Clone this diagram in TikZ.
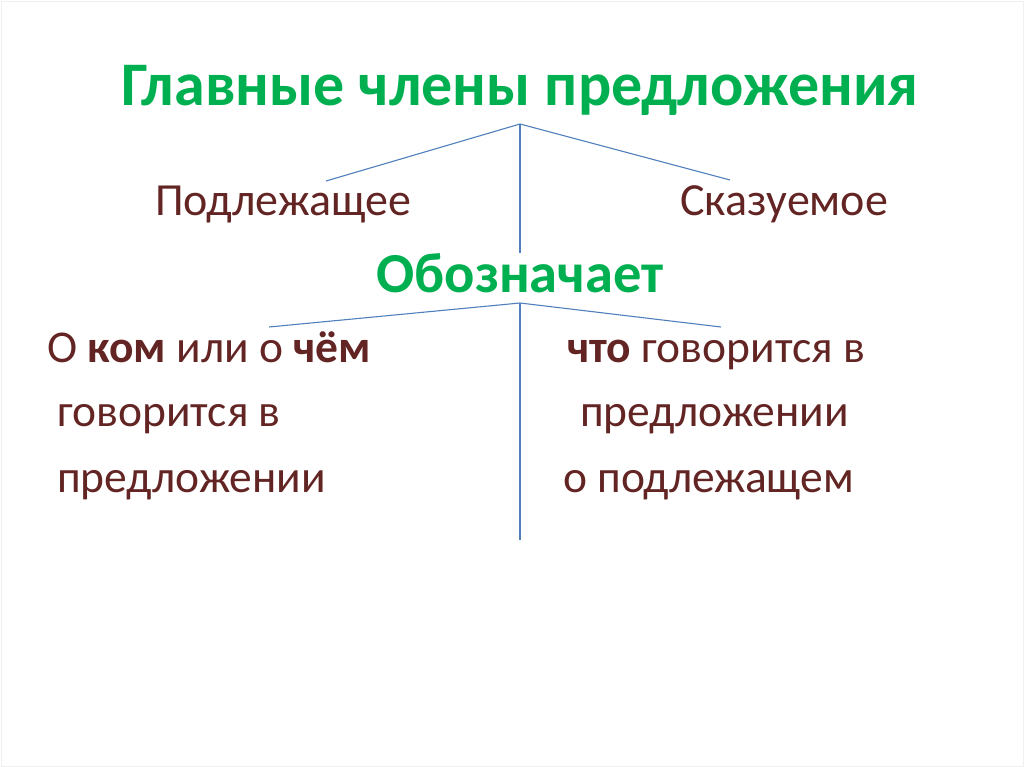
\documentclass[tikz,border=0pt]{standalone}
\usepackage{fontspec}
\setmainfont{Carlito}
\definecolor{titlegreen}{HTML}{00B050}
\definecolor{textbrown}{HTML}{632523}
\definecolor{linkblue}{HTML}{4F7FBC}
\tikzset{
  heading/.style={font=\bfseries\fontsize{62}{64}\selectfont, text=titlegreen, inner sep=0pt},
  term/.style={font=\fontsize{46}{50}\selectfont, text=textbrown, inner sep=0pt},
  bodytext/.style={font=\fontsize{45.5}{50}\selectfont, text=textbrown, inner sep=0pt},
  link/.style={draw=linkblue, line width=1.1pt}
}
\begin{document}
\begin{tikzpicture}[x=1pt, y=-1pt]
    \useasboundingbox (0,0) rectangle (1024,767);
    \draw[black!6] (1,1) rectangle (1023,766);

    % Title
    \node[heading, anchor=base] (title) at (520,106) {Главные члены предложения};
    \node[term, anchor=base west] (subj) at (155,215) {Подлежащее};
    \node[term, anchor=base west] (pred) at (680,215) {Сказуемое};
    \node[heading, font=\bfseries\fontsize{56.5}{60}\selectfont, anchor=base] (means) at (520,292) {Обозначает};

    % Left column
    \node[bodytext, anchor=base west] (l1) at (47,362) {О \textbf{ком} или о \textbf{чём}};
    \node[bodytext, anchor=base west] (l2) at (57,426) {говорится в};
    \node[bodytext, anchor=base west] (l3) at (57,492) {предложении};

    % Right column
    \node[bodytext, anchor=base west] (r1) at (567,362) {\textbf{что} говорится в};
    \node[bodytext, anchor=base west] (r2) at (580,426) {предложении};
    \node[bodytext, anchor=base west] (r3) at (563,492) {о подлежащем};

    % Branches
    \coordinate (top) at (520,124);
    \coordinate (topL) at (326,181);
    \coordinate (topR) at (730,180);
    \coordinate (topD) at (520,253);
    \coordinate (mid) at (520,303);
    \coordinate (midL) at (269,327);
    \coordinate (midR) at (721,327);
    \coordinate (midD) at (520,540);
    \draw[link] (topL) -- (top) -- (topR);
    \draw[link] (top) -- (topD);
    \draw[link] (midL) -- (mid) -- (midR);
    \draw[link] (mid) -- (midD);
\end{tikzpicture}
\end{document}
